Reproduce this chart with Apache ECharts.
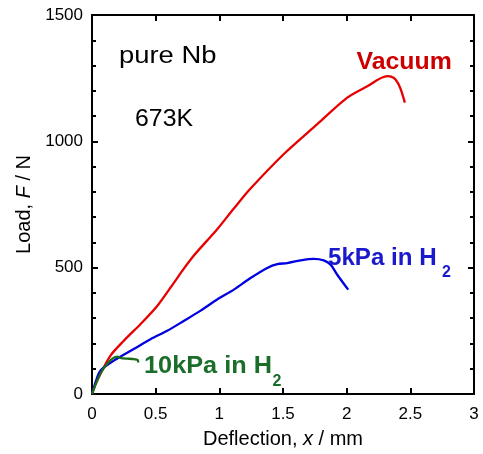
<!DOCTYPE html>
<html><head><meta charset="utf-8">
<script src="https://cdn.jsdelivr.net/npm/echarts@6/dist/echarts.min.js"></script>
<style>html,body{margin:0;padding:0;background:#fff}#c{width:483px;height:454px}</style>
</head><body><div id="c"></div>
<script>
const vacuumX = [0, 0.03, 0.067, 0.145, 0.25, 0.38, 0.512, 0.643, 0.72, 0.8, 0.9, 0.983, 1.114, 1.245, 1.507, 1.769, 2.005, 2.162, 2.319, 2.35, 2.384, 2.42, 2.457];
const vacuumY = [0, 40, 80, 152, 211, 276, 348, 440, 495, 548, 605, 652, 734, 813, 950, 1068, 1173, 1218, 1258, 1256, 1245, 1212, 1153];
const h5X = [0, 0.03, 0.067, 0.171, 0.328, 0.46, 0.59, 0.72, 0.85, 0.983, 1.114, 1.245, 1.376, 1.455, 1.533, 1.638, 1.742, 1.82, 1.874, 1.926, 2.012];
const h5Y = [0, 50, 93, 132, 178, 217, 250, 289, 329, 374, 413, 459, 499, 514, 518, 529, 535, 529, 512, 472, 413];
const h10X = [0, 0.03, 0.07, 0.12, 0.16, 0.2, 0.23, 0.28, 0.33, 0.36, 0.363];
const h10Y = [0, 40, 85, 120, 140, 148, 142, 140, 138, 134, 125];
const xTicks = [0, 0.5, 1, 1.5, 2, 2.5, 3];
const yTicks = [0, 500, 1000, 1500];

const zip = (a, b) => a.map((v, i) => [v, b[i]]);
const chart = echarts.init(document.getElementById('c'), null, {renderer: 'canvas'});
const FONT = '"Liberation Sans", Arial, sans-serif';
const axisCommon = () => ({
  axisLine: {show: true, onZero: false, lineStyle: {color: '#000', width: 2}},
  axisTick: {show: true, inside: true, length: 6, lineStyle: {color: '#000', width: 2}},
  splitLine: {show: false}
});
function label(text, x, y, font, fill, sx) {
  return {type: 'text', x: x, y: y, scaleX: sx || 1, z: 100,
    style: {text: text, font: font, fill: fill, textAlign: 'left', textVerticalAlign: 'middle',
      align: 'left', verticalAlign: 'middle'}};
}
chart.setOption({
  animation: false,
  backgroundColor: '#fff',
  grid: {left: 92, right: 9, top: 15, bottom: 57},
  xAxis: [
    Object.assign(axisCommon(), {type: 'value', min: 0, max: 3, interval: 0.5, position: 'bottom',
      axisLabel: {color: '#000', fontFamily: FONT, fontSize: 17, margin: 12,
        formatter: v => xTicks.includes(v) ? String(v) : ''},
      name: 'Deflection, {i|x} / mm', nameLocation: 'middle', nameGap: 35,
      nameTextStyle: {color: '#000', fontFamily: FONT, fontSize: 20,
        rich: {i: {fontStyle: 'italic', fontFamily: FONT, fontSize: 20, color: '#000'}}}
    }),
    Object.assign(axisCommon(), {type: 'value', min: 0, max: 3, interval: 0.5, position: 'top',
      axisLabel: {show: false}})
  ],
  yAxis: [
    Object.assign(axisCommon(), {type: 'value', min: 0, max: 1500, interval: 500, position: 'left',
      minorTick: {show: true, splitNumber: 5, length: 4, lineStyle: {color: '#000', width: 2}},
      axisLabel: {color: '#000', fontFamily: FONT, fontSize: 17, margin: 9,
        formatter: v => yTicks.includes(v) ? String(v) : ''},
      name: 'Load, {i|F} / N', nameLocation: 'middle', nameGap: 57,
      nameTextStyle: {color: '#000', fontFamily: FONT, fontSize: 20,
        rich: {i: {fontStyle: 'italic', fontFamily: FONT, fontSize: 20, color: '#000'}}}
    }),
    Object.assign(axisCommon(), {type: 'value', min: 0, max: 1500, interval: 500, position: 'right',
      minorTick: {show: true, splitNumber: 5, length: 4, lineStyle: {color: '#000', width: 2}},
      axisLabel: {show: false}})
  ],
  series: [
    {type: 'line', data: zip(vacuumX, vacuumY), showSymbol: false, smooth: 0.3,
      lineStyle: {color: '#e60000', width: 2.3}, z: 3},
    {type: 'line', data: zip(h5X, h5Y), showSymbol: false, smooth: 0.3,
      lineStyle: {color: '#0000e0', width: 2.3}, z: 4},
    {type: 'line', data: zip(h10X, h10Y), showSymbol: false, smooth: 0.2,
      lineStyle: {color: '#1a6e1a', width: 2.3}, z: 5}
  ],
  graphic: [
    label('pure Nb', 119, 57, '23px ' + FONT, '#000', 1.19),
    label('673K', 135, 120, '23px ' + FONT, '#000', 1.08),
    label('Vacuum', 356.5, 62.5, 'bold 23px ' + FONT, '#cc0000', 1.08),
    label('5kPa in H', 328, 258.5, 'bold 23px ' + FONT, '#1a1acc', 1.05),
    label('2', 442, 273, 'bold 16px ' + FONT, '#1a1acc', 1),
    label('10kPa in H', 144, 367, 'bold 23px ' + FONT, '#1a6e2a', 1.1),
    label('2', 272.5, 382, 'bold 16px ' + FONT, '#1a6e2a', 1)
  ]
});
</script></body></html>
